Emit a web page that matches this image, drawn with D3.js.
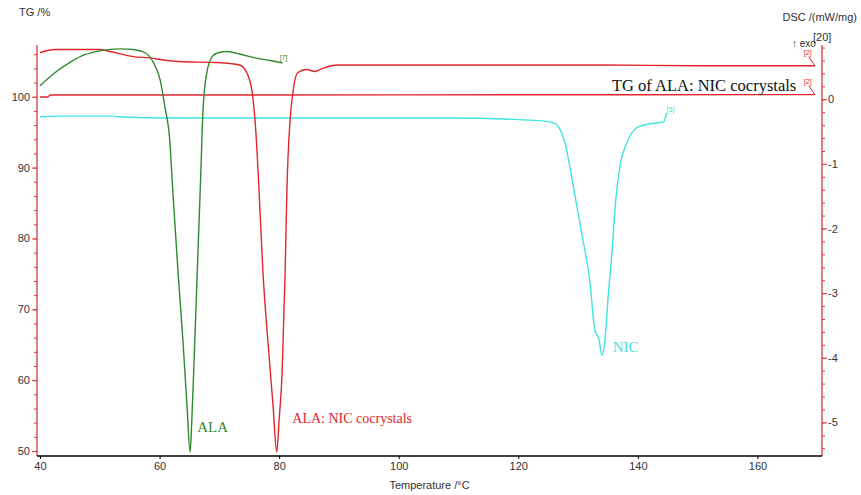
<!DOCTYPE html>
<html>
<head>
<meta charset="utf-8">
<script src="https://cdn.jsdelivr.net/npm/d3@7"></script>
<style>
  body { margin: 0; background: #fff; }
  svg text { font-family: "Liberation Sans", Arial, sans-serif; }
  .serif { font-family: "Liberation Serif", "Times New Roman", serif !important; }
</style>
</head>
<body>
<div id="chart"></div>
<script>
// DSC curves: [temperature °C, DSC mW/mg]
var alaDsc = [
  [40.0, 0.21], [42.5, 0.41], [45.0, 0.57], [47.5, 0.69], [50.0, 0.75], [53.4, 0.78],
  [55.6, 0.77], [57.6, 0.72], [58.9, 0.58], [60.1, 0.30], [60.9, -0.12], [61.7, -0.63],
  [62.2, -1.40], [63.1, -2.69], [63.9, -3.72], [64.6, -4.76], [65.1, -5.46], [65.4, -4.96],
  [65.9, -3.72], [66.3, -2.69], [66.8, -1.40], [67.3, -0.12], [67.9, 0.41], [68.8, 0.66],
  [69.8, 0.72], [71.3, 0.74], [73.4, 0.70], [76.0, 0.64], [78.5, 0.60], [80.6, 0.56]
];
var cocrystalDsc = [
  [40.0, 0.72], [42.5, 0.77], [50.0, 0.77], [51.7, 0.74], [55.6, 0.66], [58.4, 0.64],
  [61.2, 0.60], [63.9, 0.58], [69.6, 0.57], [72.1, 0.55], [73.4, 0.53], [74.6, 0.41],
  [75.5, 0.10], [76.0, -0.36], [76.5, -1.14], [77.3, -2.69], [78.1, -3.72], [79.0, -4.76],
  [79.6, -5.46], [80.0, -4.96], [80.5, -4.23], [81.0, -2.69], [81.3, -1.40], [81.8, -0.36],
  [82.3, 0.10], [83.1, 0.41], [84.6, 0.46], [86.0, 0.43], [86.8, 0.46], [88.0, 0.50],
  [89.7, 0.53], [100.2, 0.53], [116.9, 0.53], [133.6, 0.53], [150.4, 0.52], [169.6, 0.52]
];
var nicDsc = [
  [40.0, -0.27], [43.3, -0.26], [52.5, -0.26], [53.0, -0.27], [61.7, -0.29], [83.5, -0.29],
  [108.6, -0.29], [123.6, -0.33], [125.8, -0.36], [127.0, -0.47], [127.8, -0.67], [129.1, -1.29],
  [130.6, -2.07], [132.0, -2.84], [132.8, -3.57], [133.5, -3.72], [134.0, -3.96], [134.5, -3.72],
  [135.0, -3.10], [135.7, -2.33], [136.3, -1.56], [137.0, -1.04], [138.2, -0.67], [139.8, -0.44],
  [141.5, -0.39], [143.7, -0.36], [144.3, -0.35], [144.8, -0.21]
];
// TG curve: [temperature °C, mass %]
var cocrystalTg = [
  [40.0, 99.96], [41.3, 99.97], [41.7, 100.24], [100.0, 100.26], [140.0, 100.28], [169.6, 100.30]
];

var xTicks = [40, 60, 80, 100, 120, 140, 160];
var tgTicks = [50, 60, 70, 80, 90, 100];
var dscTicks = [0, -1, -2, -3, -4, -5];

var width = 861, height = 495;
var margin = { top: 45, right: 39, bottom: 39, left: 37 };

var xScale = d3.scaleLinear().domain([39.5, 170.8]).range([margin.left, width - margin.right]);
var yTg = d3.scaleLinear().domain([49.3, 107.3]).range([height - margin.bottom, margin.top]);
var yDsc = d3.scaleLinear().domain([-5.52, 0.84]).range([height - margin.bottom, margin.top]);

var green = "#2f8a2f", red = "#e0262b", cyan = "#3fe3e3", axisRed = "#d33a3a", textGrey = "#333";

var svg = d3.select("#chart").append("svg")
  .attr("width", width)
  .attr("height", height);

// left TG axis
var leftAxis = svg.append("g")
  .attr("transform", "translate(" + margin.left + ",0)")
  .call(d3.axisLeft(yTg).tickValues(d3.range(50, 107, 2)).tickSize(3).tickFormat(""));
leftAxis.append("g")
  .call(d3.axisLeft(yTg).tickValues(tgTicks).tickSize(5).tickFormat(String));
leftAxis.selectAll("path.domain").remove();
leftAxis.selectAll("line").attr("stroke", axisRed);
leftAxis.selectAll("text").attr("fill", textGrey).style("font-size", "11px").attr("x", -7);
svg.append("line")
  .attr("x1", margin.left).attr("x2", margin.left)
  .attr("y1", margin.top).attr("y2", height - margin.bottom)
  .attr("stroke", axisRed).attr("stroke-width", 1.3);

// right DSC axis
var rightAxis = svg.append("g")
  .attr("transform", "translate(" + (width - margin.right) + ",0)")
  .call(d3.axisRight(yDsc).tickValues(d3.range(-54, 9, 2).map(function(d) { return d / 10; })).tickSize(3).tickFormat(""));
rightAxis.append("g")
  .call(d3.axisRight(yDsc).tickValues(dscTicks).tickSize(5).tickFormat(String));
rightAxis.selectAll("path.domain").remove();
rightAxis.selectAll("line").attr("stroke", axisRed);
rightAxis.selectAll("text").attr("fill", textGrey).style("font-size", "11px").attr("x", 6);
svg.append("line")
  .attr("x1", width - margin.right).attr("x2", width - margin.right)
  .attr("y1", margin.top).attr("y2", height - margin.bottom)
  .attr("stroke", axisRed).attr("stroke-width", 1.3);

// bottom axis
var bottomAxis = svg.append("g")
  .attr("transform", "translate(0," + (height - margin.bottom) + ")")
  .call(d3.axisBottom(xScale).tickValues(xTicks).tickSize(3).tickFormat(String));
bottomAxis.select("path.domain")
  .attr("d", "M" + margin.left + ",0H" + (width - margin.right))
  .attr("stroke", "#000").attr("stroke-width", 1.3);
bottomAxis.selectAll("line").attr("stroke", "#000");
bottomAxis.selectAll("text").attr("fill", textGrey).style("font-size", "11px").attr("y", 6);

// axis titles
svg.append("text").attr("x", 19).attr("y", 16)
  .style("font-size", "11px").attr("fill", textGrey).text("TG /%");
svg.append("text").attr("x", 857).attr("y", 21).attr("text-anchor", "end")
  .style("font-size", "11px").attr("fill", textGrey).text("DSC /(mW/mg)");
svg.append("text").attr("x", 792).attr("y", 47)
  .style("font-size", "10px").attr("fill", textGrey).text("\u2191 exo");
svg.append("text").attr("x", 813).attr("y", 41)
  .style("font-size", "11px").attr("fill", textGrey).text("[20]");
svg.append("text").attr("x", (margin.left + width - margin.right) / 2).attr("y", 489)
  .attr("text-anchor", "middle")
  .style("font-size", "11px").attr("fill", textGrey).text("Temperature /\u00B0C");

// curves
var dscLine = d3.line()
  .curve(d3.curveMonotoneX)
  .x(function(d) { return xScale(d[0]); })
  .y(function(d) { return yDsc(d[1]); });

var tgLine = d3.line()
  .x(function(d) { return xScale(d[0]); })
  .y(function(d) { return yTg(d[1]); });

svg.append("path").datum(cocrystalTg)
  .attr("d", tgLine).attr("fill", "none").attr("stroke", red).attr("stroke-width", 1.4);
svg.append("path").datum(nicDsc)
  .attr("d", dscLine).attr("fill", "none").attr("stroke", cyan).attr("stroke-width", 1.4);
svg.append("path").datum(cocrystalDsc)
  .attr("d", dscLine).attr("fill", "none").attr("stroke", red).attr("stroke-width", 1.4);
svg.append("path").datum(alaDsc)
  .attr("d", dscLine).attr("fill", "none").attr("stroke", green).attr("stroke-width", 1.4);

// curve end markers with small leader strokes
function endTag(data, yScale, label, color, dx, dy, leader) {
  var last = data[data.length - 1];
  var px = xScale(last[0]), py = yScale(last[1]);
  if (leader) {
    svg.append("line")
      .attr("x1", px - 6).attr("y1", py - 9).attr("x2", px).attr("y2", py)
      .attr("stroke", color).attr("stroke-width", 1);
  }
  svg.append("text")
    .attr("x", px + dx).attr("y", py + dy)
    .style("font-size", "7px").attr("fill", color).text(label);
}
endTag(alaDsc, yDsc, "[7]", green, -3, -3, false);
endTag(nicDsc, yDsc, "[5]", cyan, 0, -1, false);
endTag(cocrystalDsc, yDsc, "[2]", red, -11, -11, true);
endTag(cocrystalTg, yTg, "[2]", red, -11, -11, true);

// curve labels
svg.append("text").attr("class", "serif")
  .attr("x", xScale(66.3)).attr("y", 432)
  .style("font-size", "15px").attr("fill", green).text("ALA");
svg.append("text").attr("class", "serif")
  .attr("x", xScale(82.2)).attr("y", 423)
  .style("font-size", "14px").attr("fill", red).text("ALA: NIC cocrystals");
svg.append("text").attr("class", "serif")
  .attr("x", xScale(135.8)).attr("y", 352)
  .style("font-size", "15px").attr("fill", cyan).text("NIC");
svg.append("text").attr("class", "serif")
  .attr("x", 612).attr("y", 91)
  .style("font-size", "16.5px").attr("fill", "#111").text("TG of ALA: NIC cocrystals");
</script>
</body>
</html>
